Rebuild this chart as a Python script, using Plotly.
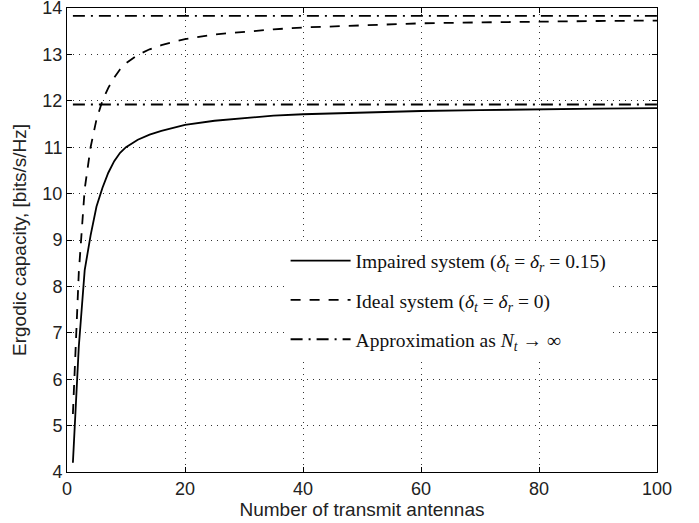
import plotly.graph_objects as go

# Number of transmit antennas (sample points)
n_antennas = [1, 2, 3, 4, 5, 6, 7, 8, 9, 10, 12, 14, 16, 18, 20, 25, 30, 35, 40, 50, 60, 70, 80, 90, 100]

impaired = [4.2, 6.7, 8.35, 9.1, 9.72, 10.12, 10.45, 10.7, 10.88, 11.0, 11.16, 11.27, 11.35, 11.42,
            11.48, 11.57, 11.63, 11.68, 11.71, 11.75, 11.78, 11.80, 11.82, 11.83, 11.84]

ideal = [5.25, 8.3, 10.1, 11.0, 11.6, 12.0, 12.28, 12.5, 12.68, 12.81, 12.99, 13.11, 13.2, 13.27,
         13.33, 13.43, 13.49, 13.54, 13.58, 13.63, 13.67, 13.69, 13.71, 13.72, 13.73]

approx_x = [1, 100]
approx_impaired = 11.92
approx_ideal = 13.83

x_ticks = [0, 20, 40, 60, 80, 100]
y_ticks = [4, 5, 6, 7, 8, 9, 10, 11, 12, 13, 14]

fig = go.Figure()

fig.add_trace(go.Scatter(
    x=n_antennas, y=impaired, mode="lines",
    name="Impaired system (<i>δ<sub>t</sub></i> = <i>δ<sub>r</sub></i> = 0.15)",
    line=dict(color="black", width=1.8), legendgroup="a"))

fig.add_trace(go.Scatter(
    x=n_antennas, y=ideal, mode="lines",
    name="Ideal system (<i>δ<sub>t</sub></i> = <i>δ<sub>r</sub></i> = 0)",
    line=dict(color="black", width=1.8, dash="10px,9px"), legendgroup="b"))

fig.add_trace(go.Scatter(
    x=approx_x + [None] + approx_x,
    y=[approx_ideal, approx_ideal, None, approx_impaired, approx_impaired],
    mode="lines",
    name="Approximation as <i>N<sub>t</sub></i> → ∞",
    line=dict(color="black", width=1.8, dash="12px,6px,2px,6px"), legendgroup="c"))

sans = "Liberation Sans, Arial, sans-serif"
axis_common = dict(
    showline=True, linecolor="black", linewidth=1, mirror="ticks",
    ticks="inside", ticklen=5, tickcolor="black",
    showgrid=True, gridcolor="#333333", gridwidth=1, griddash="1px,5px",
    zeroline=False, automargin=False, ticklabeloverflow="allow",
    tickfont=dict(family=sans, size=18, color="#222222"),
)

fig.update_xaxes(range=[0, 100], tickvals=x_ticks,
                 title=dict(text="Number of transmit antennas", standoff=4,
                            font=dict(family=sans, size=19, color="#222222")),
                 **axis_common)
fig.update_yaxes(range=[4, 14], tickvals=y_ticks,
                 title=dict(text="Ergodic capacity, [bits/s/Hz]", standoff=10,
                            font=dict(family=sans, size=19, color="#222222")),
                 **axis_common)

fig.update_layout(
    width=699, height=523,
    margin=dict(l=67, r=42, t=8, b=51),
    paper_bgcolor="white", plot_bgcolor="white",
    legend=dict(x=0.3705, y=0.497, xanchor="left", yanchor="top",
                bgcolor="white", borderwidth=0, itemwidth=60,
                traceorder="grouped", tracegroupgap=11,
                font=dict(family="Liberation Serif, Times New Roman, serif", size=19.5, color="#111111")),
)

fig.write_html("out.html", config={"displayModeBar": False},
               post_script="document.body.style.margin='0';document.body.style.overflow='hidden';")
